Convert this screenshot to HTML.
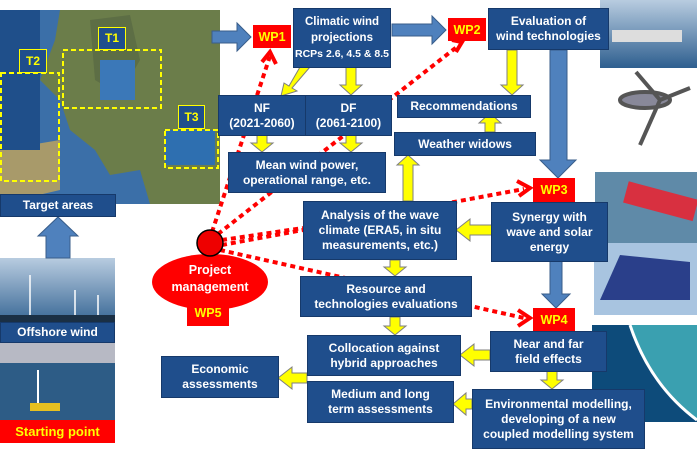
<!DOCTYPE html>
<html><head><meta charset="utf-8"><style>
body{margin:0;width:697px;height:454px;overflow:hidden;background:#fff;position:relative;font-family:"Liberation Sans",sans-serif}
.b{position:absolute;background:#1f4e8c;color:#fff;font-weight:bold;font-size:12px;line-height:15px;text-align:center;display:flex;align-items:center;justify-content:center;border:1px solid #16396a;box-sizing:border-box;white-space:nowrap}
.wp{position:absolute;background:#f00;color:#ff0;font-weight:bold;font-size:12.5px;display:flex;align-items:center;justify-content:center}
svg{position:absolute;left:0;top:0}
</style></head><body>
<svg width="697" height="454">
<defs>
<linearGradient id="sky" x1="0" y1="0" x2="0" y2="1"><stop offset="0" stop-color="#b8cce0"/><stop offset="1" stop-color="#2e5f8f"/></linearGradient>
</defs>
<rect x="0" y="10" width="220" height="194" fill="#3b6fa8"/>
<path d="M60 10 L220 10 L220 204 L150 204 L140 170 L110 175 L95 150 L70 130 L60 100 L40 80 L55 40Z" fill="#6b7d4a"/>
<path d="M0 150 L60 140 L60 190 L0 204Z" fill="#a89a6a"/>
<path d="M90 20 L130 15 L140 60 L120 95 L95 80Z" fill="#5d6e45"/>
<rect x="165" y="130" width="50" height="35" fill="#2e6fb0"/>
<rect x="100" y="60" width="35" height="40" fill="#3b78b8"/>
<rect x="0" y="10" width="40" height="140" fill="#1f4f8a"/>
<g fill="none" stroke="#ff0" stroke-width="2" stroke-dasharray="5,3">
<rect x="63" y="50" width="98" height="58"/><rect x="1" y="73" width="58" height="108"/><rect x="165" y="130" width="53" height="38"/></g>
<rect x="600" y="0" width="97" height="68" fill="url(#sky)"/>
<rect x="612" y="30" width="70" height="12" fill="#ddd"/>
<g stroke="#555" stroke-width="4" fill="#889"><ellipse cx="645" cy="100" rx="25" ry="8"/><line x1="660" y1="100" x2="690" y2="88"/><line x1="660" y1="100" x2="636" y2="72"/><line x1="660" y1="100" x2="640" y2="145"/></g>
<rect x="595" y="172" width="102" height="72" fill="#5f8aa8"/>
<rect x="625" y="190" width="72" height="22" fill="#d83040" transform="rotate(15 660 200)"/>
<rect x="594" y="243" width="103" height="72" fill="#a8c4e0"/>
<path d="M600 300 L620 255 L690 262 L690 300Z" fill="#2a3f8a"/>
<rect x="592" y="325" width="105" height="97" fill="#0d4b7a"/>
<path d="M630 325 L697 325 L697 420 Q650 380 630 325Z" fill="#3aa0b0"/>
<path d="M630 325 Q650 385 697 420" stroke="#fff" stroke-width="3" fill="none"/>
<rect x="0" y="258" width="115" height="70" fill="url(#sky)"/>
<g stroke="#fff" stroke-width="1.5"><line x1="30" y1="275" x2="30" y2="315"/><line x1="75" y1="290" x2="75" y2="315"/><line x1="98" y1="295" x2="98" y2="315"/></g>
<rect x="0" y="315" width="115" height="8" fill="#1a2f44"/>
<rect x="0" y="343" width="115" height="77" fill="#2d5c86"/>
<rect x="0" y="343" width="115" height="20" fill="#b7b9c4"/>
<line x1="38" y1="370" x2="38" y2="405" stroke="#fff" stroke-width="2"/>
<rect x="30" y="403" width="30" height="8" fill="#e6c020"/>
<g fill="#4f81bd" stroke="#385d8a">
<path d="M46 258 V236 H38 L58 217 L78 236 H70 V258Z"/>
<path d="M212 31 H237 V23 L251 37 L237 51 V43 H212Z"/>
<path d="M392 24 H432 V16 L446 30 L432 44 V36 H392Z"/>
<path d="M550 50 H567 V160 H576 L558 178 L540 160 H550Z"/>
<path d="M550 261 H562 V294 H570 L556 308 L542 294 H550Z"/>
</g>
<g fill="#ff0" stroke="#7f7f7f" stroke-width="1">
<path d="M300 67 L310 67 L292 88 L297 91 L281 96 L284 83 L289 86Z"/>
<path d="M346 67 H356 V85 H362 L351 95 L340 85 H346Z"/>
<path d="M257 135 H267 V143 H273 L262 152 L251 143 H257Z"/>
<path d="M346 135 H356 V143 H362 L351 152 L340 143 H346Z"/>
<path d="M507 50 H517 V85 H523 L512 95 L501 85 H507Z"/>
<path d="M485 132 V123 H479 L490 113 L501 123 H495 V132Z"/>
<path d="M403 201 V165 H397 L408 155 L419 165 H413 V201Z"/>
<path d="M492 225 H470 V219 L456 230 L470 241 V235 H492Z"/>
<path d="M390 260 H400 V267 H406 L395 276 L384 267 H390Z"/>
<path d="M390 317 H400 V326 H406 L395 335 L384 326 H390Z"/>
<path d="M490 350 H474 V344 L460 355 L474 366 V360 H490Z"/>
<path d="M307 373 H292 V367 L278 378 L292 389 V383 H307Z"/>
<path d="M472 399 H466 V393 L453 404 L466 415 V409 H472Z"/>
<path d="M547 371 H557 V380 H563 L552 389 L541 380 H547Z"/>
</g>
<g stroke="#f00" stroke-width="4" stroke-dasharray="5,4" fill="none">
<line x1="212" y1="232" x2="270" y2="56"/>
<line x1="218" y1="234" x2="458" y2="46"/>
<line x1="222" y1="240" x2="303" y2="228"/>
<line x1="222" y1="245" x2="524" y2="189"/>
<line x1="220" y1="250" x2="524" y2="318"/>
</g>
<g stroke="#f00" stroke-width="4" fill="none">
<path d="M262 62 L270 52 L276 64"/><path d="M452 40 L462 42 L456 52"/>
<path d="M517 181 L530 188 L519 196"/><path d="M518 310 L530 318 L518 326"/>
</g>
<ellipse cx="210" cy="282" rx="58" ry="28" fill="#f00"/>
<circle cx="210" cy="243" r="13" fill="#e00" stroke="#000" stroke-width="1.5"/>
</svg>
<div class="b" style="left:98px;top:27px;width:28px;height:23px;color:#ff0;border-color:#ff0">T1</div>
<div class="b" style="left:19px;top:49px;width:28px;height:24px;color:#ff0;border-color:#ff0">T2</div>
<div class="b" style="left:178px;top:105px;width:27px;height:24px;color:#ff0;border-color:#ff0">T3</div>
<div class="b" style="left:0;top:194px;width:116px;height:23px">Target areas</div>
<div class="b" style="left:0;top:322px;width:115px;height:21px">Offshore wind</div>
<div class="wp" style="left:0;top:420px;width:115px;height:23px;font-size:13px">Starting point</div>
<div class="wp" style="left:253px;top:25px;width:38px;height:23px">WP1</div>
<div class="wp" style="left:448px;top:18px;width:38px;height:23px">WP2</div>
<div class="wp" style="left:533px;top:178px;width:42px;height:24px">WP3</div>
<div class="wp" style="left:533px;top:308px;width:42px;height:23px">WP4</div>
<div class="wp" style="left:187px;top:300px;width:42px;height:26px">WP5</div>
<div style="position:absolute;left:152px;top:262px;width:116px;text-align:center;color:#fff;font-weight:bold;font-size:12.5px;line-height:17px">Project<br>management</div>
<div class="b" style="left:293px;top:8px;width:98px;height:60px;font-size:11.5px;line-height:16px"><div>Climatic wind<br>projections<br><span style="font-size:10.5px">RCPs 2.6, 4.5 &amp; 8.5</span></div></div>
<div class="b" style="left:488px;top:8px;width:121px;height:42px">Evaluation of<br>wind technologies</div>
<div class="b" style="left:218px;top:95px;width:88px;height:41px">NF<br>(2021-2060)</div>
<div class="b" style="left:305px;top:95px;width:87px;height:41px">DF<br>(2061-2100)</div>
<div class="b" style="left:228px;top:152px;width:158px;height:41px">Mean wind power,<br>operational range, etc.</div>
<div class="b" style="left:397px;top:95px;width:134px;height:23px">Recommendations</div>
<div class="b" style="left:394px;top:132px;width:142px;height:24px">Weather widows</div>
<div class="b" style="left:303px;top:201px;width:154px;height:59px">Analysis of the wave<br>climate (ERA5, in situ<br>measurements, etc.)</div>
<div class="b" style="left:491px;top:202px;width:117px;height:60px">Synergy with<br>wave and solar<br>energy</div>
<div class="b" style="left:300px;top:276px;width:172px;height:41px">Resource and<br>technologies evaluations</div>
<div class="b" style="left:490px;top:331px;width:117px;height:41px">Near and far<br>field effects</div>
<div class="b" style="left:307px;top:335px;width:154px;height:41px">Collocation against<br>hybrid approaches</div>
<div class="b" style="left:161px;top:356px;width:118px;height:42px">Economic<br>assessments</div>
<div class="b" style="left:307px;top:381px;width:147px;height:42px">Medium and long<br>term assessments</div>
<div class="b" style="left:472px;top:389px;width:173px;height:60px">Environmental modelling,<br>developing of a new<br>coupled modelling system</div>
</body></html>
